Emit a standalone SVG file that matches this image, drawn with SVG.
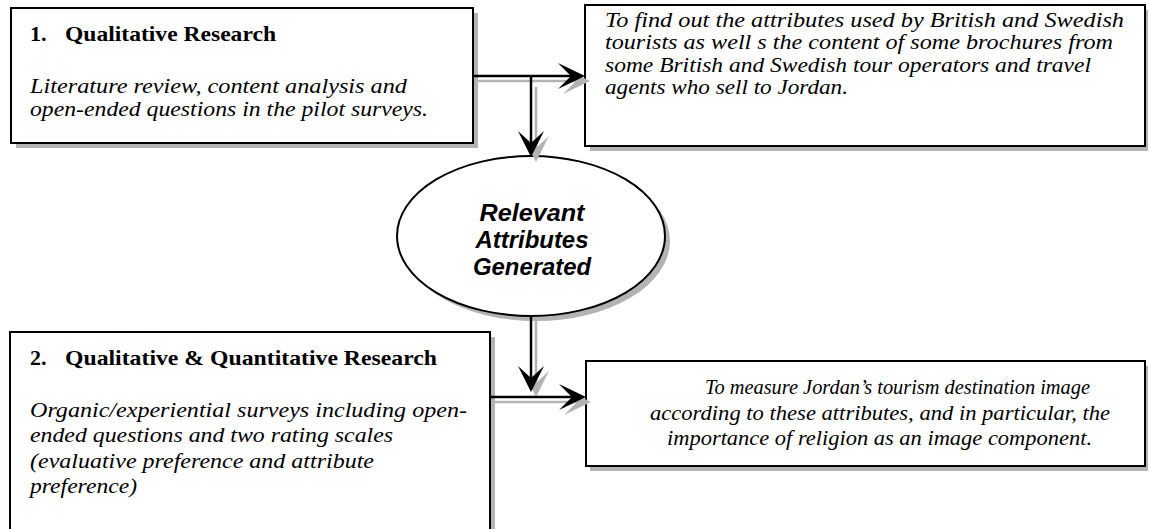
<svg xmlns="http://www.w3.org/2000/svg" width="1149" height="529" viewBox="0 0 1149 529">
  <defs>
    <style>
      .box { fill: #ffffff; stroke: #000000; stroke-width: 2; }
      .shadow { fill: #b3b3b3; stroke: none; }
      .shaft { stroke: #000000; stroke-width: 2.5; fill: none; }
      .shaft-sh { stroke: #b3b3b3; stroke-width: 2.5; fill: none; }
      .tip { fill: #000000; }
      .tip-sh { fill: #b3b3b3; }
      .serif { font-family: 'Liberation Serif', 'Times New Roman', Times, serif; fill: #000; }
      .head { font-weight: bold; font-size: 22px; }
      .body { font-style: italic; font-size: 21px; }
      .oval { font-family: 'Liberation Sans', Arial, Helvetica, sans-serif; font-weight: bold; font-style: italic; font-size: 24px; fill: #000; text-anchor: middle; }
    </style>
  </defs>
  <rect width="1149" height="529" fill="#ffffff"/>

  <!-- Stage 1 box -->
  <g id="stage1" class="serif">
    <rect class="shadow" x="16" y="13" width="462" height="135"/>
    <rect class="box" x="11" y="8" width="462" height="135"/>
    <text class="head" y="41"><tspan x="30">1.</tspan><tspan x="65" textLength="211" lengthAdjust="spacingAndGlyphs">Qualitative Research</tspan></text>
    <text class="body" x="30" y="93" textLength="377" lengthAdjust="spacingAndGlyphs">Literature review, content analysis and</text>
    <text class="body" x="30" y="116" textLength="398" lengthAdjust="spacingAndGlyphs">open-ended questions in the pilot surveys.</text>
  </g>

  <!-- Stage 1 goal -->
  <g id="goal1" class="serif">
    <rect class="shadow" x="590" y="10" width="558" height="141"/>
    <rect class="box" x="585" y="5" width="560" height="141"/>
    <text class="body" x="605" y="27" textLength="519" lengthAdjust="spacingAndGlyphs">To find out the attributes used by British and Swedish</text>
    <text class="body" x="605" y="49" textLength="508" lengthAdjust="spacingAndGlyphs">tourists as well s the content of some brochures from</text>
    <text class="body" x="605" y="72" textLength="486" lengthAdjust="spacingAndGlyphs">some British and Swedish tour operators and travel</text>
    <text class="body" x="605" y="94" textLength="243" lengthAdjust="spacingAndGlyphs">agents who sell to Jordan.</text>
  </g>

  <!-- Outcome ellipse -->
  <g id="attributes">
    <ellipse class="shadow" cx="536" cy="241" rx="134" ry="80"/>
    <ellipse class="box" cx="531" cy="236" rx="134" ry="80"/>
    <text class="oval" x="532" y="221" textLength="105" lengthAdjust="spacingAndGlyphs">Relevant</text>
    <text class="oval" x="532" y="248" textLength="113" lengthAdjust="spacingAndGlyphs">Attributes</text>
    <text class="oval" x="532" y="275" textLength="118" lengthAdjust="spacingAndGlyphs">Generated</text>
  </g>

  <!-- Stage 2 box -->
  <g id="stage2" class="serif">
    <rect class="shadow" x="15" y="337" width="480" height="210"/>
    <rect class="box" x="10" y="332" width="480" height="210"/>
    <text class="head" y="365"><tspan x="30">2.</tspan><tspan x="65" textLength="372" lengthAdjust="spacingAndGlyphs">Qualitative &amp; Quantitative Research</tspan></text>
    <text class="body" x="30" y="417" textLength="437" lengthAdjust="spacingAndGlyphs">Organic/experiential surveys including open-</text>
    <text class="body" x="30" y="442" textLength="363" lengthAdjust="spacingAndGlyphs">ended questions and two rating scales</text>
    <text class="body" x="30" y="468" textLength="344" lengthAdjust="spacingAndGlyphs">(evaluative preference and attribute</text>
    <text class="body" x="30" y="493" textLength="107" lengthAdjust="spacingAndGlyphs">preference)</text>
  </g>

  <!-- Stage 2 goal -->
  <g id="goal2" class="serif">
    <rect class="shadow" x="590" y="366" width="558" height="105"/>
    <rect class="box" x="586" y="361" width="559" height="105"/>
    <text class="body" x="705" y="394" textLength="385" lengthAdjust="spacingAndGlyphs">To measure Jordan’s tourism destination image</text>
    <text class="body" x="650" y="420" textLength="460" lengthAdjust="spacingAndGlyphs">according to these attributes, and in particular, the</text>
    <text class="body" x="667" y="445" textLength="425" lengthAdjust="spacingAndGlyphs">importance of religion as an image component.</text>
  </g>

  <!-- Connectors -->
  <g id="connectors">
    <!-- shadows -->
    <g transform="translate(5,5)">
      <path class="shaft-sh" d="M473,76 H572"/>
      <path class="tip-sh" d="M585,76 L558,63 L571,76 L558,89 Z"/>
      <path class="shaft-sh" d="M531,82 V144"/>
      <path class="tip-sh" d="M531,157 L518,131 L531,143 L544,131 Z"/>
      <path class="shaft-sh" d="M531,316 V379"/>
      <path class="tip-sh" d="M531,392 L518,366 L531,378 L544,366 Z"/>
      <path class="shaft-sh" d="M490,397 H573"/>
      <path class="tip-sh" d="M586,397 L559,384 L572,397 L559,410 Z"/>
    </g>
    <!-- stage 1 to goal 1 -->
    <path class="shaft" d="M473,76 H572"/>
    <path class="tip" d="M585,76 L558,63 L571,76 L558,89 Z"/>
    <!-- stage 1 to attributes -->
    <path class="shaft" d="M531,76 V144"/>
    <path class="tip" d="M531,157 L518,131 L531,143 L544,131 Z"/>
    <!-- attributes down to stage 2 link -->
    <path class="shaft" d="M531,316 V379"/>
    <path class="tip" d="M531,392 L518,366 L531,378 L544,366 Z"/>
    <!-- stage 2 to goal 2 -->
    <path class="shaft" d="M490,397 H573"/>
    <path class="tip" d="M586,397 L559,384 L572,397 L559,410 Z"/>
  </g>
</svg>
